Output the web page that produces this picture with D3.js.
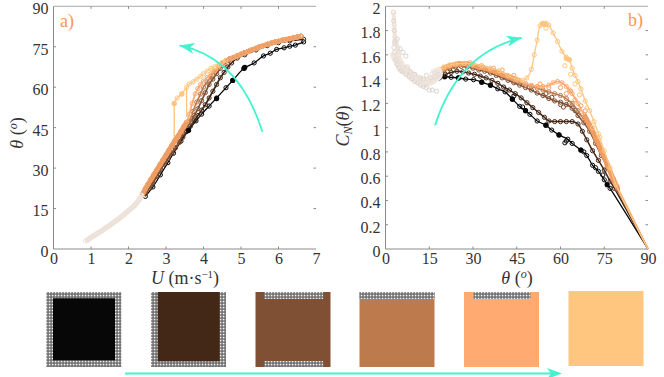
<!DOCTYPE html>
<html>
<head>
<meta charset="utf-8">
<script src="https://cdn.jsdelivr.net/npm/d3@7"></script>
<style>
html, body { margin: 0; padding: 0; background: #fff; }
svg { display: block; }
text { font-family: "Liberation Serif", serif; fill: #333; }
</style>
</head>
<body>
<svg id="chart" width="664" height="377"></svg>
<script>
// ticks
const uTicks = [0, 1, 2, 3, 4, 5, 6, 7];
const angleTicks = [0, 15, 30, 45, 60, 75, 90];
const cnTicks = [0, 0.2, 0.4, 0.6, 0.8, 1, 1.2, 1.4, 1.6, 1.8, 2];

// panel a: U, theta
const aPale = [[0.85,3],[0.9,3.3],[0.95,3.8],[1,4.3],[1.05,4.7],[1.1,5.1],[1.15,5.6],[1.2,6],[1.25,6.4],[1.3,6.9],[1.35,7.4],[1.4,7.9],[1.45,8.3],[1.5,8.8],[1.55,9.3],[1.6,9.8],[1.65,10.3],[1.7,10.8],[1.75,11.3],[1.8,11.9],[1.85,12.4],[1.9,13],[1.95,13.6],[2,14.2],[2.05,14.8],[2.1,15.4],[2.15,16],[2.2,16.8],[2.25,17.6],[2.3,18.6],[2.35,20]];
const aLowDark = [[2.45,20.5],[2.55,22.5],[2.65,24.5],[2.75,27],[2.85,29.5],[2.95,31.5],[3.05,33.5],[3.15,35.5],[3.25,37.5],[3.35,39.5]];
const aLowLight = [[2.38,20.5],[2.45,22.3],[2.52,24],[2.6,25.8],[2.68,27.6],[2.76,29.4],[2.84,31.2],[2.92,33],[3,34.8],[3.08,36.6],[3.16,38.4],[3.24,40.2],[3.32,41.8],[3.4,43.6],[3.48,45.4],[3.55,47]];
const aTop = [[4.7,70.5],[4.8,71],[4.9,71.6],[5,72.2],[5.1,72.8],[5.2,73.3],[5.3,73.9],[5.4,74.4],[5.5,75],[5.6,75.4],[5.7,75.9],[5.8,76.3],[5.9,76.7],[6,77],[6.1,77.4],[6.2,77.7],[6.3,78],[6.4,78.3],[6.5,78.6],[6.6,78.9]];
const aBlack = [[2.45,19.5],[2.65,23],[2.85,27.5],[3.05,32],[3.2,35.5],[3.4,40],[3.6,44],[3.8,47.5],[3.95,50],[4.15,53],[4.35,56],[4.6,59.8],[4.78,62.5],[5.08,67],[5.35,69],[5.6,71.6],[5.78,72.6],[5.95,74],[6.15,74.6],[6.3,75.2],[6.45,75.6],[6.67,76.8]];
const aBlackFilled = [[3.6,44],[4.78,62.5],[5.08,67],[5.1,67.4],[4.35,55.8]];
const aDark = aLowDark.concat([[3.45,41.5],[3.55,43.5],[3.65,45.5],[3.75,47.5],[3.85,49.5],[3.95,51.5],[4.05,53.5],[4.15,56],[4.25,58.5],[4.35,61],[4.45,63.5],[4.55,65.5],[4.65,67.5],[4.75,69],[4.9,70.8],[5.1,72],[5.4,73.8],[5.7,75.4],[6,76.5],[6.3,77.2],[6.67,77.8]]);
const aBrown = aLowDark.concat([[3.45,43],[3.55,45],[3.65,47],[3.75,49.5],[3.85,52],[3.95,55],[4.05,58],[4.15,61],[4.25,63],[4.35,65],[4.45,67],[4.55,68.5],[4.65,69.8]]).concat(aTop);
const aTan = aLowLight.concat([[3.62,47.5],[3.72,51],[3.82,54.5],[3.92,57.5],[4,60],[4.1,62],[4.2,64],[4.3,66],[4.4,67.5],[4.5,68.8],[4.6,69.9]]).concat(aTop);
const aOrange = aLowLight.concat([[3.62,50],[3.7,54],[3.78,57.5],[3.85,59.5],[3.92,61],[4,62.3],[4.1,63.6],[4.2,65],[4.3,66.2],[4.4,67.5],[4.5,68.5],[4.6,69.8]]).concat(aTop);
const aLight = [[3.22,54],[3.3,56],[3.42,57.5],[3.55,60],[3.62,61.2],[3.72,62],[3.82,63],[3.92,64],[4,65],[4.1,66],[4.2,67],[4.3,67.6],[4.4,68.3],[4.5,69.2],[4.6,70]];
const aLightDropLow = [[3.22,41],[3.22,54]];
const aLightDropHigh = [[3.55,49],[3.55,60]];
const aLightFilled = [[3.22,54],[3.42,57.5]];

// panel b: theta, C_N
const bPaleLow = [[2.7,1.95],[2.8,1.88],[3,1.8],[3.1,1.7],[3.2,1.62],[3.5,1.56],[4,1.52],[4.6,1.49],[5.3,1.47],[6,1.46],[7,1.44],[8,1.42],[9,1.4],[10,1.38],[11,1.37],[12,1.35],[13,1.34],[14,1.33],[15,1.31],[16,1.31],[17.5,1.3]];
const bPaleMid = [[2.9,1.66],[3.3,1.72],[4,1.73],[5,1.65],[6,1.62],[7,1.59],[7.5,1.5],[8.5,1.46],[10,1.44],[12,1.41],[13,1.4],[14,1.43],[15.5,1.41],[17,1.42],[18,1.44]];
const bPaleBand = [[3,1.62],[3.4,1.58],[4,1.56],[4.5,1.53],[5,1.52],[5.5,1.5],[6,1.49],[7,1.47],[8,1.45],[9,1.43],[10,1.41],[11,1.4],[12,1.38],[13,1.37],[14,1.37],[15,1.38],[16,1.39],[17,1.41],[18,1.43],[18,1.46],[17,1.45],[16,1.44]];
const bPaleSpike = [[2.8,1.95],[3,1.85],[3.2,1.75],[3.6,1.7],[4.2,1.66],[4.6,1.6],[5,1.56],[5.5,1.53]];
const bBlack = [[18.5,1.41],[20.3,1.42],[22.5,1.415],[25,1.41],[27.5,1.4],[30.2,1.395],[33,1.375],[36,1.35],[38.5,1.32],[41,1.295],[43.5,1.235],[46,1.175],[48,1.14],[49.5,1.11],[52,1.055],[55,1.02],[57,0.98],[59.5,0.94],[62.5,0.905],[64,0.87],[67,0.815],[69,0.77],[71,0.69],[73,0.64],[75,0.57],[77,0.5],[90,0]];
const bBlackFilled = [[20.3,1.42],[25,1.41],[33,1.375],[36,1.35],[43.5,1.235],[48,1.14],[55,1.02],[59.5,0.94],[67,0.815],[76,0.53]];
const bBlackStray = [[61.5,0.875],[62,0.89],[68,0.8],[72,0.67],[74.5,0.61],[47,1.17],[44,1.26]];
const bDark = [[18.5,1.43],[20.5,1.44],[22.5,1.455],[24.5,1.465],[26.5,1.46],[28.5,1.45],[30.5,1.44],[32.5,1.425],[34.5,1.41],[36.5,1.39],[38.5,1.365],[40.5,1.335],[42.5,1.31],[44.5,1.28],[46.5,1.245],[48.5,1.205],[50.5,1.165],[52.5,1.125],[54.5,1.085],[56,1.055],[58,1.05],[60,1.05],[62,1.05],[64,1.05],[66,1.03],[67.5,0.97],[69,0.9],[71,0.81],[73,0.73],[75,0.65],[77,0.56],[78.5,0.5],[90,0]];
const bBrown = [[18.5,1.45],[20,1.47],[22,1.485],[24,1.5],[26,1.505],[28,1.5],[30,1.49],[32,1.475],[34,1.465],[36,1.45],[38,1.43],[40,1.41],[42,1.39],[44,1.37],[46,1.35],[48,1.33],[50,1.31],[52,1.285],[54,1.265],[56,1.24],[58,1.22],[60,1.21],[62,1.19],[64,1.16],[66,1.1],[68,1.04],[70,0.97],[72,0.87],[74,0.77],[76,0.67],[78,0.56],[79.5,0.49],[90,0]];
const bBrownStray = [[60,1.19],[61,1.17],[63,1.2],[57,1.25],[55,1.28],[65,1.14]];
const bTan = [[18.5,1.46],[20,1.48],[22,1.5],[24,1.515],[26,1.52],[28,1.515],[30,1.505],[32,1.49],[34,1.48],[36,1.465],[38,1.45],[40,1.43],[42,1.41],[44,1.39],[46,1.37],[48,1.35],[50,1.34],[52,1.325],[54,1.31],[56,1.295],[58,1.28],[60,1.265],[62,1.24],[64,1.2],[66,1.14],[68,1.07],[70,1],[72,0.9],[74,0.8],[76,0.69],[78,0.58],[79.5,0.5],[90,0]];
const bOrange = [[18.5,1.47],[20,1.49],[22,1.51],[24,1.52],[26,1.525],[28,1.525],[30,1.515],[32,1.5],[34,1.49],[36,1.475],[38,1.46],[40,1.44],[42,1.425],[44,1.405],[46,1.385],[48,1.365],[50,1.35],[52,1.34],[54,1.34],[56,1.35],[57.5,1.37],[59,1.38],[60.5,1.37],[62,1.34],[63,1.31],[64,1.28],[66,1.2],[68,1.11],[70,1.02],[72,0.92],[74,0.81],[76,0.7],[78,0.58],[79.5,0.51],[90,0]];
const bOrangeStray = [[62,1.28],[63.5,1.3],[65,1.23],[67,1.18],[68.5,1.14],[60,1.33],[56,1.33],[53,1.36],[37,1.49],[33,1.51],[29,1.535],[25,1.53],[22,1.515],[40,1.475],[44,1.43]];
const bLight = [[18.5,1.48],[20,1.5],[22,1.515],[24,1.525],[27,1.53],[30,1.525],[33,1.51],[36,1.49],[39,1.47],[42,1.43],[45,1.4],[47,1.39],[48.5,1.41],[50,1.48],[51,1.6],[52,1.72],[53,1.84],[54,1.86],[55,1.86],[56,1.845],[57.5,1.78],[59,1.71],[60.5,1.63],[62,1.58],[63,1.56],[64,1.49],[65,1.43],[66,1.38],[67,1.32],[68.5,1.22],[70,1.14],[71.5,1.05],[73,0.95],[75,0.81],[77,0.67],[79,0.53],[90,0]];
const bLightStray = [[61.5,1.51],[63.5,1.44],[65,1.36],[66.5,1.27],[69,1.16],[71,1],[73.5,0.92],[55,1.82],[54.5,1.85]];
const bLightFilled = [[53.7,1.855],[54.5,1.855],[55,1.85],[62,1.57],[63,1.56]];

const colors = ["#070707", "#432818", "#7f5033", "#bd7a4c", "#ffaa70", "#ffc67f"];
const paleColor = "#f3e8e0";
const paleRing = "#ede2da";
const bandColor = "#ef9d62";
const arrowColor = "#42f3cf";
const frameColor = "#8a8a8a";

const svg = d3.select("#chart");

const panelA = { left: 53.5, right: 316 };
const panelB = { left: 385.5, right: 648 };
const plotTop = 6.3, plotBottom = 249;

const xA = d3.scaleLinear().domain([0, 7]).range([panelA.left, panelA.right]);
const yA = d3.scaleLinear().domain([0, 90]).range([plotBottom, plotTop]);
const xB = d3.scaleLinear().domain([0, 90]).range([panelB.left, panelB.right]);
const yB = d3.scaleLinear().domain([0, 2]).range([plotBottom, plotTop]);

// mesh for the bottom squares
const defs = svg.append("defs");
const mesh = defs.append("pattern").attr("id", "mesh").attr("patternUnits", "userSpaceOnUse")
    .attr("width", 3).attr("height", 3);
mesh.append("rect").attr("width", 3).attr("height", 3).attr("fill", "#666");
mesh.append("rect").attr("x", 0.7).attr("y", 0.7).attr("width", 1.7).attr("height", 1.7).attr("fill", "#f2f2f2");

function drawFrame(x, y, xTicks, yTicks, yFormat) {
    const g = svg.append("g");
    const [x0, x1] = x.range();
    const [y0, y1] = y.range();
    // no right spine in the reference, just its ticks
    g.append("path").attr("d", `M${x0},${y1}H${x1}`).attr("fill", "none").attr("stroke", "#a8a8a8").attr("stroke-width", 1);
    g.append("path").attr("d", `M${x0},${y1}V${y0}H${x1}`).attr("fill", "none").attr("stroke", frameColor).attr("stroke-width", 1);

    const axisX = g.append("g").attr("transform", `translate(0,${y0})`)
        .call(d3.axisBottom(x).tickValues(xTicks).tickSize(0).tickPadding(4).tickFormat(d3.format("d")));
    axisX.select(".domain").remove();
    const axisY = g.append("g").attr("transform", `translate(${x0},0)`)
        .call(d3.axisLeft(y).tickValues(yTicks).tickSize(0).tickPadding(5).tickFormat(yFormat));
    axisY.select(".domain").remove();
    // y labels sit a little under their ticks
    axisY.selectAll(".tick text").attr("dy", "0.46em");
    g.selectAll(".tick text").attr("font-size", 16).attr("font-family", "Liberation Serif").attr("fill", "#3a3a3a");

    // small inward ticks on every side
    xTicks.slice(1, -1).forEach(t => {
        g.append("path").attr("d", `M${x(t)},${y0}v-2.5M${x(t)},${y1}v2.5`).attr("stroke", frameColor);
    });
    yTicks.slice(1, -1).forEach(t => {
        g.append("path").attr("d", `M${x0},${y(t)}h2.5M${x1},${y(t)}h-2.5`).attr("stroke", frameColor);
    });
}

function drawLine(x, y, pts, color, width = 1.1) {
    const line = d3.line().x(d => x(d[0])).y(d => y(d[1])).curve(d3.curveCatmullRom.alpha(0.5));
    svg.append("path").datum(pts).attr("d", line).attr("fill", "none").attr("stroke", color).attr("stroke-width", width);
}

function drawRings(x, y, pts, color, r = 2.1, width = 1) {
    svg.append("g").selectAll("circle").data(pts).join("circle")
        .attr("cx", d => x(d[0])).attr("cy", d => y(d[1])).attr("r", r)
        .attr("fill", "none").attr("stroke", color).attr("stroke-width", width);
}

function drawDots(x, y, pts, color, r = 2.6) {
    svg.append("g").selectAll("circle").data(pts).join("circle")
        .attr("cx", d => x(d[0])).attr("cy", d => y(d[1])).attr("r", r).attr("fill", color);
}

function drawArrow(x, y, start, control, end) {
    const p = d3.path();
    p.moveTo(x(start[0]), y(start[1]));
    p.quadraticCurveTo(x(control[0]), y(control[1]), x(end[0]), y(end[1]));
    svg.append("path").attr("d", p.toString()).attr("fill", "none").attr("stroke", arrowColor).attr("stroke-width", 1.8);
    // barbed head along the end tangent
    const ang = Math.atan2(y(end[1]) - y(control[1]), x(end[0]) - x(control[0]));
    const ex = x(end[0]), ey = y(end[1]);
    svg.append("path")
        .attr("d", "M0,0L-15,-5.5L-11,0L-15,5.5Z")
        .attr("transform", `translate(${ex},${ey}) rotate(${ang * 180 / Math.PI})`)
        .attr("fill", arrowColor);
}

// panel a
drawFrame(xA, yA, uTicks, angleTicks, d3.format("d"));
[aBlack, aDark, aBrown, aTan, aOrange].forEach((pts, i) => {
    drawLine(xA, yA, pts, colors[i], i > 0 ? 1.7 : 1.3);
    drawRings(xA, yA, pts, colors[i]);
});
drawDots(xA, yA, aBlackFilled, colors[0]);
drawLine(xA, yA, aLightDropLow, colors[5], 1.4);
drawLine(xA, yA, aLightDropHigh, colors[5], 1.4);
drawLine(xA, yA, aLight, colors[5], 1.3);
drawRings(xA, yA, aLight, colors[5]);
drawDots(xA, yA, aLightFilled, colors[5]);
// the overlapping runs merge into solid bands
drawLine(xA, yA, aLowLight, bandColor, 5);
drawLine(xA, yA, aTop, bandColor, 5);
drawRings(xA, yA, aTop, "#f3a86f");
drawLine(xA, yA, aPale, paleColor, 5.5);
drawRings(xA, yA, aPale, paleRing);
drawArrow(xA, yA, [5.57, 43.5], [4.95, 71], [3.36, 75.5]);

// panel b, rings stop at the last measured point, the (90, 0) end is line only
const withoutEnd = pts => pts.slice(0, -1);
drawFrame(xB, yB, angleTicks, cnTicks, d => d === 0 || d === 1 || d === 2 ? d3.format("d")(d) : d3.format(".1f")(d));
drawLine(xB, yB, bBlack, colors[0], 1.3);
drawRings(xB, yB, withoutEnd(bBlack), colors[0]);
drawRings(xB, yB, bBlackStray, colors[0]);
drawDots(xB, yB, bBlackFilled, colors[0]);
drawLine(xB, yB, bDark, colors[1], 1.5);
drawRings(xB, yB, withoutEnd(bDark), colors[1]);
drawLine(xB, yB, bBrown, colors[2], 1.5);
drawRings(xB, yB, withoutEnd(bBrown), colors[2]);
drawRings(xB, yB, bBrownStray, colors[2]);
drawLine(xB, yB, bTan, colors[3], 1.5);
drawRings(xB, yB, withoutEnd(bTan), colors[3]);
drawLine(xB, yB, bOrange, colors[4], 1.6);
drawRings(xB, yB, withoutEnd(bOrange), colors[4]);
drawLine(xB, yB, bOrange.filter(d => d[0] < 47), bandColor, 5);
drawLine(xB, yB, bOrange.filter(d => d[0] > 66 && d[0] < 90), bandColor, 5);
drawRings(xB, yB, bOrangeStray, "#f5a56a");
drawLine(xB, yB, bLight, colors[5], 1.3);
drawRings(xB, yB, withoutEnd(bLight), colors[5]);
drawRings(xB, yB, bLightStray, colors[5]);
drawDots(xB, yB, bLightFilled, colors[5]);
drawLine(xB, yB, bPaleBand, paleColor, 9);
drawLine(xB, yB, bPaleSpike, paleColor, 4);
drawRings(xB, yB, bPaleLow, "#dcd4ce");
drawRings(xB, yB, bPaleMid, "#dcd4ce");
drawRings(xB, yB, bPaleBand, paleRing);
drawRings(xB, yB, bPaleSpike, paleRing);
drawArrow(xB, yB, [17, 1.02], [25, 1.62], [46.7, 1.74]);

// labels
function mathLabel(x, y, parts, rotate) {
    const t = svg.append("text").attr("text-anchor", "middle").attr("font-size", 18)
        .attr("transform", `translate(${x},${y})` + (rotate ? " rotate(-90)" : ""));
    parts.forEach(p => {
        const s = t.append("tspan").text(p.text);
        if (p.italic) s.attr("font-style", "italic");
        if (p.size) s.attr("font-size", p.size);
        if (p.dy) s.attr("dy", p.dy);
    });
}

mathLabel(185, 284, [
    { text: "U", italic: true }, { text: " (m·s" },
    { text: "−1", size: 11, dy: -6 }, { text: ")", dy: 6 }
]);
mathLabel(23, 133, [
    { text: "θ", italic: true }, { text: " (" }, { text: "o", italic: true, size: 12, dy: -6 }, { text: ")", dy: 6 }
], true);
mathLabel(517, 284, [
    { text: "θ", italic: true }, { text: " (" }, { text: "o", italic: true, size: 12, dy: -6 }, { text: ")", dy: 6 }
]);
mathLabel(349, 126, [
    { text: "C", italic: true }, { text: "N", italic: true, size: 12, dy: 3 },
    { text: "(", dy: -3 }, { text: "θ", italic: true }, { text: ")" }
], true);

svg.append("text").attr("x", 60).attr("y", 27).attr("font-size", 18).style("fill", "#ff9550").text("a)");
svg.append("text").attr("x", 628).attr("y", 26).attr("font-size", 18).style("fill", "#ff9550").text("b)");

// porosity squares under the plots
const squareX = [46.3, 151, 255.5, 359.5, 464, 568.5];
const squareY = [292, 292, 292, 292, 292, 291];
const squareSize = 75;
// solid part of each square, relative to its corner: left, top, right, bottom insets
const solidInsets = [[6.7, 6.3, 6.3, 6.7], [6.7, 0, 6.3, 5.7], null, null, null, null];
// mesh strips on the solid squares: x inset, y offset, width, height
const meshStrips = [[], [], [[8.7, 0, 59, 7], [8.7, 69, 59, 6]], [[0, 0, 75, 7]], [[9.5, 0, 57, 7]], []];

squareX.forEach((sx, i) => {
    const sy = squareY[i];
    const inset = solidInsets[i];
    if (inset) {
        svg.append("rect").attr("x", sx).attr("y", sy).attr("width", squareSize).attr("height", squareSize).attr("fill", "url(#mesh)");
        svg.append("rect").attr("x", sx + inset[0]).attr("y", sy + inset[1])
            .attr("width", squareSize - inset[0] - inset[2]).attr("height", squareSize - inset[1] - inset[3])
            .attr("fill", colors[i]);
    } else {
        svg.append("rect").attr("x", sx).attr("y", sy).attr("width", squareSize).attr("height", squareSize).attr("fill", colors[i]);
    }
    meshStrips[i].forEach(s => {
        svg.append("rect").attr("x", sx + s[0]).attr("y", sy + s[1]).attr("width", s[2]).attr("height", s[3]).attr("fill", "url(#mesh)");
    });
});

svg.append("path").attr("d", "M125,373.5H552").attr("stroke", arrowColor).attr("stroke-width", 2);
svg.append("path").attr("d", "M562,373.5L547,368L551,373.5L547,379Z").attr("fill", arrowColor);
</script>
</body>
</html>
